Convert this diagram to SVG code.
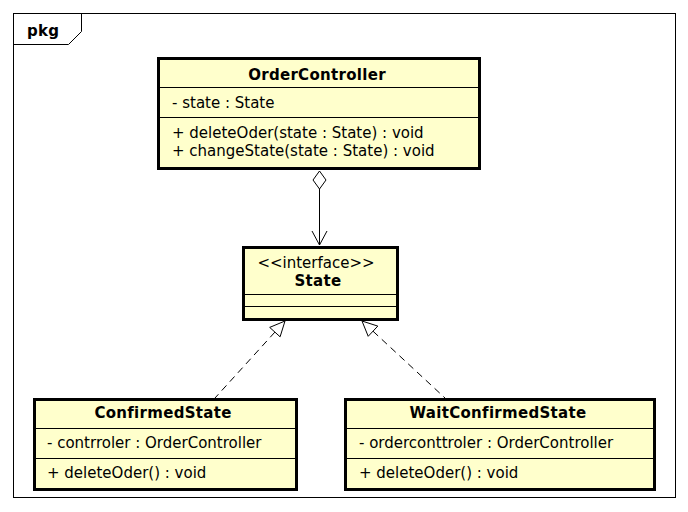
<svg xmlns="http://www.w3.org/2000/svg" width="688" height="512" viewBox="0 0 688 512">
<style>
text{font-family:"DejaVu Sans","Liberation Sans",sans-serif;font-size:15px;fill:#000}
.b{font-weight:bold;letter-spacing:0.3px}
.m{text-anchor:middle}
.box{fill:#ffffcc;stroke:#000;stroke-width:3}
.sep{stroke:#000;stroke-width:1}
.ln{fill:none;stroke:#000;stroke-width:1}
.dash{fill:none;stroke:#000;stroke-width:1;stroke-dasharray:7,5}
</style>
<rect x="0" y="0" width="688" height="512" fill="#fff"/>
<g id="frame">
<rect x="13.5" y="13.5" width="662" height="484" fill="none" stroke="#000"/>
<path d="M13.5,44.5 H68.5 L81.5,31.5 V13.5" class="ln"/>
<text x="27" y="36" class="b">pkg</text>
</g>
<g id="OrderController">
<rect x="158.5" y="58.5" width="321" height="110" class="box"/>
<line x1="158" y1="87.5" x2="480" y2="87.5" class="sep"/>
<line x1="158" y1="117.5" x2="480" y2="117.5" class="sep"/>
<text x="317" y="80" class="b m">OrderController</text>
<text x="172" y="108">- state : State</text>
<text x="172" y="138">+ deleteOder(state : State) : void</text>
<text x="172" y="156">+ changeState(state : State) : void</text>
</g>
<g id="State">
<rect x="243.5" y="247.5" width="154" height="72" class="box"/>
<line x1="243" y1="294.5" x2="397" y2="294.5" class="sep"/>
<line x1="243" y1="306.5" x2="397" y2="306.5" class="sep"/>
<text x="316" y="268" class="m">&lt;&lt;interface&gt;&gt;</text>
<text x="318" y="286" class="b m">State</text>
</g>
<g id="ConfirmedState">
<rect x="34.5" y="399.5" width="262" height="90" class="box"/>
<line x1="35" y1="428.5" x2="296" y2="428.5" class="sep"/>
<line x1="35" y1="458.5" x2="296" y2="458.5" class="sep"/>
<text x="163" y="418" class="b m">ConfirmedState</text>
<text x="47" y="448">- contrroler : OrderController</text>
<text x="47" y="478">+ deleteOder() : void</text>
</g>
<g id="WaitConfirmedState">
<rect x="345.5" y="399.5" width="309" height="90" class="box"/>
<line x1="346" y1="428.5" x2="654" y2="428.5" class="sep"/>
<line x1="346" y1="458.5" x2="654" y2="458.5" class="sep"/>
<text x="498" y="418" class="b m">WaitConfirmedState</text>
<text x="359" y="448">- orderconttroler : OrderController</text>
<text x="359" y="478">+ deleteOder() : void</text>
</g>
<g id="connectors">
<polygon points="319.5,171 326,180 319.5,189 313,180" fill="#fff" stroke="#000"/>
<line x1="319.5" y1="189" x2="319.5" y2="245" class="ln"/>
<polyline points="312,231 319.5,245 327,231" class="ln"/>
<polygon points="285,321 269.7,327.4 280.1,336.8" fill="#fff" stroke="#000"/>
<line x1="274.9" y1="332.1" x2="215" y2="398" class="dash"/>
<polygon points="362,321 377.8,326.1 368.2,336.3" fill="#fff" stroke="#000"/>
<line x1="373" y1="331.2" x2="445" y2="398" class="dash"/>
</g>
</svg>
